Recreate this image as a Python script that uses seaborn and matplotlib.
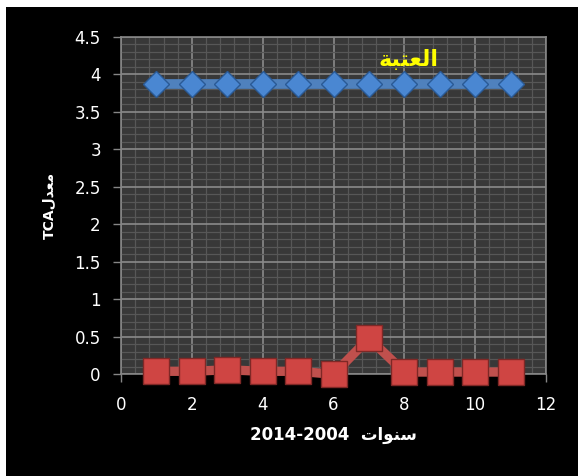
import matplotlib
matplotlib.use("Agg")
import matplotlib.pyplot as plt
from matplotlib.patches import Rectangle
from matplotlib.ticker import MultipleLocator
import seaborn as sns
import pandas as pd

# ---- data ----
years = [1, 2, 3, 4, 5, 6, 7, 8, 9, 10, 11]
tca_rate = [0.04, 0.04, 0.06, 0.04, 0.04, 0.00, 0.48, 0.03, 0.03, 0.03, 0.03]
threshold = [3.87, 3.87, 3.87, 3.87, 3.87, 3.87, 3.87, 3.87, 3.87, 3.87, 3.87]
x_ticks = [0, 2, 4, 6, 8, 10, 12]
y_ticks = [0, 0.5, 1, 1.5, 2, 2.5, 3, 3.5, 4, 4.5]

# Arabic text in visual (shaped, left-to-right) order
threshold_label = "\uFE94\uFE92\uFE98\uFECC\uFEDF\uFE8D"          # العتبة
y_label = "TCA" + "\uFEDD\uFEAA\uFECC\uFEE3"                      # معدل TCA
x_label = "2014-2004  " + "\uFE95\uFE8D\uFEEE\uFEE8\uFEB3"        # سنوات 2004-2014

df = pd.DataFrame({"year": years, "tca": tca_rate, "thr": threshold})

sns.set_style("dark")
plt.rcParams["font.family"] = ["DejaVu Sans"]

fig = plt.figure(figsize=(5.78, 4.76), dpi=100, facecolor="white")
fig.patches.append(Rectangle((6 / 578, 0), 1, 469 / 476, transform=fig.transFigure,
                             facecolor="black", edgecolor="none", zorder=-10))
ax = fig.add_axes([121 / 578, (476 - 374.3) / 476, 425 / 578, 337.6 / 476])
ax.set_facecolor("#383838")

sns.lineplot(data=df, x="year", y="thr", ax=ax, color="#4f81bd", linewidth=7,
             marker="D", markersize=13.4, markerfacecolor="#4a87d2",
             markeredgecolor="#2a5a96", markeredgewidth=1, zorder=5)
sns.lineplot(data=df, x="year", y="tca", ax=ax, color="#c0504d", linewidth=6.7,
             marker="s", markersize=19, markerfacecolor="#cf4543",
             markeredgecolor="#7f2826", markeredgewidth=1, zorder=5)
for ln in ax.lines:
    ln.set_clip_on(False)

ax.set_xlim(0, 12)
ax.set_ylim(0, 4.5)
ax.set_xticks(x_ticks)
ax.set_yticks(y_ticks)
ax.set_xticklabels([str(t) for t in x_ticks])
ax.set_yticklabels([("%g" % t) for t in y_ticks])
ax.xaxis.set_minor_locator(MultipleLocator(0.4))
ax.yaxis.set_minor_locator(MultipleLocator(0.1))
ax.grid(True, which="minor", color="#575757", linewidth=0.9, zorder=0)
ax.grid(True, which="major", color="#8a8a8a", linewidth=1.2, zorder=1)
ax.set_axisbelow(True)
for s in ax.spines.values():
    s.set_visible(True)
    s.set_color("#868686")
    s.set_linewidth(1.2)

ax.tick_params(axis="both", which="major", direction="out", length=5.5, width=1,
               color="#868686", labelcolor="white", labelsize=12)
ax.tick_params(axis="y", which="major", pad=9, left=True)
ax.tick_params(axis="x", which="major", pad=10, bottom=True)
ax.tick_params(which="minor", length=0)

ax.set_xlabel(x_label, color="white", fontsize=12, fontweight="bold", labelpad=9)
ax.set_ylabel(y_label, color="white", fontsize=10, fontweight="bold", labelpad=13)

ax.text(8.13, 4.2, threshold_label, color="#ffff00", fontsize=16, fontweight="bold",
        ha="center", va="center", zorder=6)

fig.savefig("out.png", dpi=100, facecolor=fig.get_facecolor())
